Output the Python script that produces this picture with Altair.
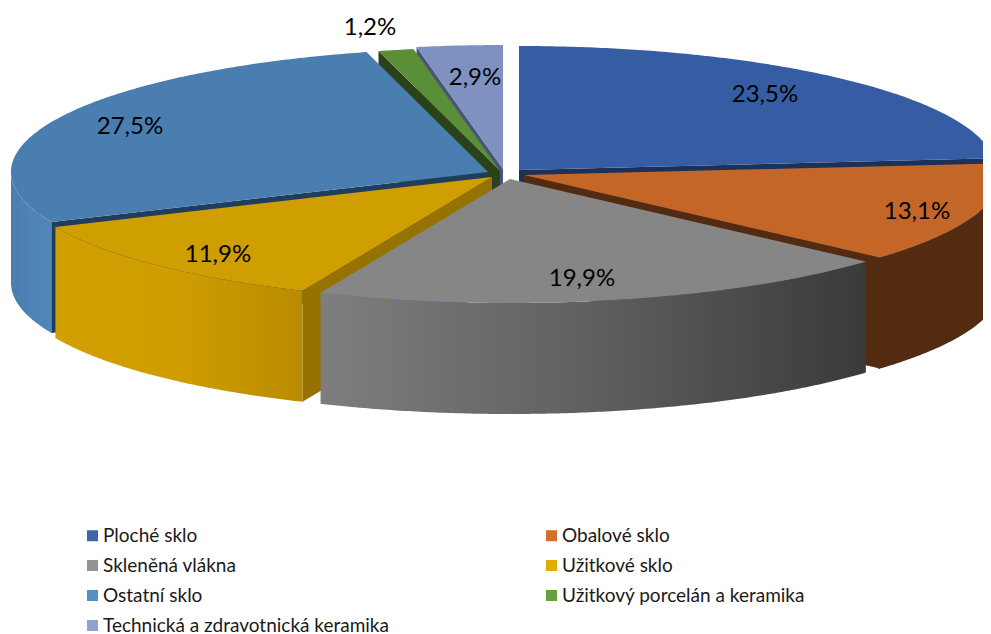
import math
import altair as alt
import pandas as pd

# ---- data ----
categories = ["Ploché sklo", "Obalové sklo", "Skleněná vlákna", "Užitkové sklo",
              "Ostatní sklo", "Užitkový porcelán a keramika",
              "Technická a zdravotnická keramika"]
shares = [23.5, 13.1, 19.9, 11.9, 27.5, 1.2, 2.9]
share_labels = ["23,5%", "13,1%", "19,9%", "11,9%", "27,5%", "1,2%", "2,9%"]

# ---- layout and style ----
legend_colors = ["#3f65ab", "#d1702b", "#949494", "#e3aa00", "#5590c5", "#66a03c", "#8fa3d2"]
top_colors = ["#365da3", "#c36627", "#868686", "#cf9e00", "#4a7eb0", "#5a8f38", "#7f91c1"]
edge_colors = ["#1b3157", "#532b10", "#444444", "#967300", "#1f3d5c", "#2a421a", "#4a5578"]
apex = [(519, 170), (524, 175), (510, 179), (492, 177), (488, 172), (500, 171), (503, 169)]
label_xy = [(765, 93), (917, 210), (582, 277), (218, 253), (130, 125), (370, 26), (475, 76)]
RX, RY, DEPTH = 477, 124, 111
W, H = 975, 626
FONT = "Lato"

x_scale = alt.Scale(domain=[8, 8 + W], nice=False, zero=False)
y_scale = alt.Scale(domain=[8 + H, 8], nice=False, zero=False)

cum = [0.0]
for s in shares:
    cum.append(cum[-1] + s)
total = cum[-1]
ang = [c / total * 360 for c in cum]


def rim(i, deg, drop=0):
    a = math.radians(deg)
    ax, ay = apex[i]
    return (ax + RX * math.sin(a), ay - RY * math.cos(a) + drop)


def arc(i, d1, d2, drop=0):
    n = max(2, int(abs(d2 - d1) * 2) + 1)
    return [rim(i, d1 + (d2 - d1) * k / (n - 1), drop) for k in range(n)]


def poly(pts, fill):
    df = pd.DataFrame(pts, columns=["x", "y"])
    df["seq"] = range(len(df))
    return alt.Chart(df).mark_line(filled=True, fill=fill, strokeWidth=0).encode(
        x=alt.X("x:Q", scale=x_scale, axis=None),
        y=alt.Y("y:Q", scale=y_scale, axis=None),
        order="seq:Q",
    )


def top(i):
    return poly([apex[i]] + arc(i, ang[i], ang[i + 1]), top_colors[i])


def outer(i, fill, overlap=0.0):
    d1, d2 = max(ang[i], 90), min(ang[i + 1] + overlap, 270)
    return poly(arc(i, d1, d2) + arc(i, d2, d1, DEPTH), fill)


def cut(i, deg):
    e = rim(i, deg)
    ax, ay = apex[i]
    return poly([(ax, ay), e, (e[0], e[1] + DEPTH), (ax, ay + DEPTH)], edge_colors[i])


def hgrad(a, b, *mid):
    cols = [a, *mid, b]
    return alt.Gradient(gradient="linear", x1=0, y1=0, x2=1, y2=0,
                        stops=[alt.GradientStop(color=c, offset=k / (len(cols) - 1))
                               for k, c in enumerate(cols)])


layers = [
    cut(0, ang[1]), top(0),
    cut(6, ang[6]), top(6),
    cut(5, ang[5]), top(5),
    outer(4, hgrad("#4a7eb0", "#5086b8", "#4f83b5")), cut(4, ang[4]), top(4),
    cut(1, ang[2]), outer(1, "#532b10", overlap=0.3), top(1),
    cut(3, ang[3]), outer(3, hgrad("#d19f00", "#b98b00", "#cf9d00")), top(3),
    outer(2, hgrad("#7e7e7e", "#3a3a3a", "#5f5f5f")), top(2),
]

labels_df = pd.DataFrame({"x": [p[0] for p in label_xy], "y": [p[1] for p in label_xy],
                          "t": share_labels})
labels = alt.Chart(labels_df).mark_text(font=FONT, fontSize=24, color="#000000", dy=2).encode(
    x=alt.X("x:Q", scale=x_scale, axis=None),
    y=alt.Y("y:Q", scale=y_scale, axis=None),
    text="t:N",
)

legend_df = pd.DataFrame({"c": categories})
legend_layer = alt.Chart(legend_df).mark_square(opacity=0).encode(
    x=alt.value(0), y=alt.value(0),
    color=alt.Color("c:N", sort=None,
                    scale=alt.Scale(domain=categories, range=legend_colors),
                    legend=alt.Legend(
                        title=None, orient="none", legendX=75, legendY=518,
                        columns=2, direction="horizontal", symbolType="square",
                        symbolSize=121, symbolOpacity=1, symbolStrokeWidth=0,
                        labelFont=FONT, labelFontSize=19, labelColor="#1a1a1a",
                        labelLimit=500, labelOffset=1, rowPadding=10, columnPadding=153,
                        gridAlign="each",
                    )),
)

chart = alt.layer(*layers, labels, legend_layer).properties(
    width=W, height=H, padding=0,
    autosize=alt.AutoSizeParams(type="none"),
).configure_view(stroke=None)

chart.save("out.html", embed_options={"renderer": "svg", "actions": False})
